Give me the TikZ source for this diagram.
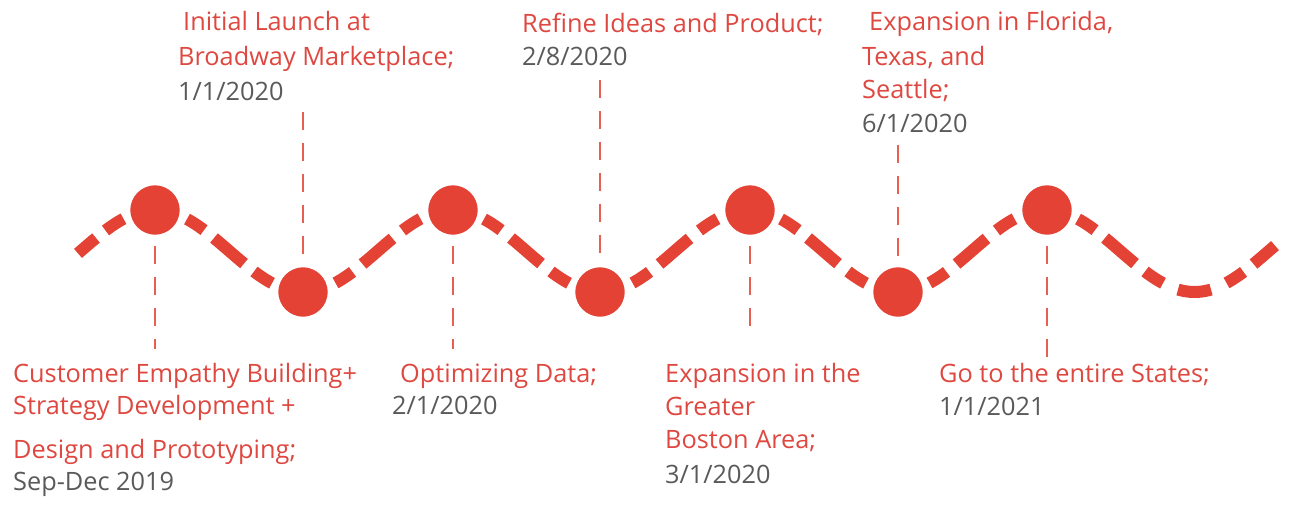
\documentclass[tikz,border=0pt]{standalone}
\usepackage{fontspec}
\setmainfont{Open Sans}
\definecolor{tlred}{RGB}{227,66,52}
\definecolor{txtred}{RGB}{222,72,64}
\definecolor{txtgray}{RGB}{90,90,90}
\begin{document}
\begin{tikzpicture}[x=1pt,y=-1pt,
  dot/.style={circle,fill=tlred,draw=white,line width=1.5pt,minimum size=51pt,inner sep=0pt},
  wave/.style={draw=tlred,line width=12pt,line cap=butt},
  vline/.style={draw=tlred!85,line width=1.8pt,dash pattern=on 18pt off 13pt},
  lbl/.style={anchor=base west,inner sep=0pt,text=txtred,font=\fontsize{25.3}{30}\selectfont},
  dte/.style={anchor=base west,inner sep=0pt,text=txtgray,font=\fontsize{25.3}{30}\selectfont}]
\useasboundingbox (0,0) rectangle (1298,515);
\fill[white] (0,0) rectangle (1298,515);
% wave dashes
\foreach \c in {155,303.5,452,600.5,749,897.5,1046}{
  \foreach \a/\b in {32/49,59/89,99/117}{
    \draw[wave] plot[domain=\c+\a:\c+\b,samples=16,smooth] (\x,{251-41*cos((\x-155)/297*360)});
  }
}
\draw[wave] plot[domain=78:96,samples=12,smooth] (\x,{251-41*cos((\x-155)/297*360)});
\draw[wave] plot[domain=105.5:123.5,samples=12,smooth] (\x,{251-41*cos((\x-155)/297*360)});
\draw[wave] plot[domain=1178:1211,samples=12,smooth] (\x,{251-41*cos((\x-155)/297*360)});
\draw[wave] plot[domain=1226.5:1243.5,samples=12,smooth] (\x,{251-41*cos((\x-155)/297*360)});
\draw[wave] plot[domain=1253.5:1275,samples=12,smooth] (\x,{251-41*cos((\x-155)/297*360)});
% milestones
\node[dot] (m1) at (155,210) {};
\node[dot] (m2) at (303,292) {};
\node[dot] (m3) at (453,210) {};
\node[dot] (m4) at (600,292) {};
\node[dot] (m5) at (750,210) {};
\node[dot] (m6) at (898,292) {};
\node[dot] (m7) at (1047,210) {};
% leader lines
\coordinate (e1) at (155,349);
\coordinate (e2) at (303,112);
\coordinate (e3) at (453,349);
\coordinate (e4) at (600,80);
\coordinate (e5) at (750,333);
\coordinate (e6) at (898,145);
\coordinate (e7) at (1047,358);
\draw[vline] ([yshift=-10pt]m1.south) -- (e1);
\draw[vline] (e2) -- (m2.north);
\draw[vline] ([yshift=-10pt]m3.south) -- (e3);
\draw[vline] (e4) -- (m4.north);
\draw[vline] ([yshift=-10pt]m5.south) -- (e5);
\draw[vline] (e6) -- (m6.north);
\draw[vline] ([yshift=-10pt]m7.south) -- (e7);
% labels
\node[lbl] (t1a) at (13,382) {Customer Empathy Building+};
\node[lbl] (t1b) at (13,414) {Strategy Development +};
\node[lbl] (t1c) at (13,458) {Design and Prototyping;};
\node[dte] (t1d) at (13,490) {Sep-Dec 2019};
\node[lbl] (t2a) at (183,30) {Initial Launch at};
\node[lbl] (t2b) at (178,65) {Broadway Marketplace;};
\node[dte] (t2c) at (178,100) {1/1/2020};
\node[lbl] (t3a) at (400,382) {Optimizing Data;};
\node[dte] (t3b) at (392,414) {2/1/2020};
\node[lbl] (t4a) at (522,32) {Refine Ideas and Product;};
\node[dte] (t4b) at (522,65) {2/8/2020};
\node[lbl] (t5a) at (665,382) {Expansion in the};
\node[lbl] (t5b) at (665,415) {Greater};
\node[lbl] (t5c) at (665,448) {Boston Area;};
\node[dte] (t5d) at (665,483) {3/1/2020};
\node[lbl] (t6a) at (869,30) {Expansion in Florida,};
\node[lbl] (t6b) at (862,65) {Texas, and};
\node[lbl] (t6c) at (862,98) {Seattle;};
\node[dte] (t6d) at (862,132) {6/1/2020};
\node[lbl] (t7a) at (939,382) {Go to the entire States;};
\node[dte] (t7b) at (939,415) {1/1/2021};
\end{tikzpicture}
\end{document}
